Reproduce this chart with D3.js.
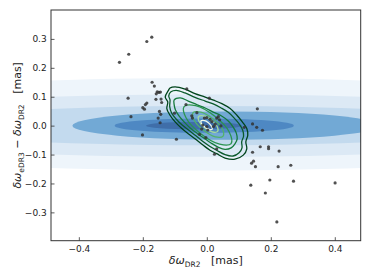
<!DOCTYPE html>
<html>
<head>
<meta charset="utf-8">
<script src="https://cdn.jsdelivr.net/npm/d3@7"></script>
<style>
  body { margin: 0; background: #fff; }
  text { font-family: 'DejaVu Sans', sans-serif; }
</style>
</head>
<body>
<div id="vis"></div>
<script>
// scatter of individual sources: [dw_DR2, dw_eDR3 - dw_DR2] in mas
const points = [
  [-0.172, 0.306], [-0.1875, 0.291], [-0.244, 0.247], [-0.273, 0.219],
  [-0.171, 0.150], [-0.164, 0.137], [-0.155, 0.117], [-0.150, 0.115],
  [-0.145, 0.116], [-0.158, 0.110], [-0.159, 0.091], [-0.143, 0.092],
  [-0.141, 0.080], [-0.246, 0.095], [-0.1875, 0.078], [-0.192, 0.073],
  [-0.200, 0.062], [-0.195, 0.057], [-0.148, 0.049], [-0.144, 0.039],
  [-0.237, 0.031], [-0.152, 0.026], [-0.146, 0.010], [-0.201, -0.032],
  [-0.095, -0.047], [-0.0625, 0.127], [0.008, 0.095], [-0.065, 0.073],
  [-0.101, 0.043], [-0.031, 0.045], [-0.047, 0.034], [-0.045, 0.026],
  [-0.0075, 0.026], [0.0, 0.028], [0.010, 0.022], [0.031, 0.026],
  [0.036, 0.031], [0.040, 0.020], [0.016, 0.014], [0.026, 0.005],
  [0.021, -0.003], [0.0, -0.003], [-0.0125, 0.002], [-0.016, -0.012],
  [0.003, -0.015], [-0.023, -0.030], [-0.003, -0.041], [0.031, -0.080],
  [0.024, -0.099], [0.044, -0.001], [0.117, -0.006], [0.143, 0.006],
  [0.156, -0.006], [0.174, -0.016], [0.158, 0.058], [0.167, -0.073],
  [0.193, -0.073], [0.193, -0.080], [0.143, -0.092], [0.226, -0.088],
  [0.140, -0.130], [0.146, -0.123], [0.152, -0.142], [0.223, -0.142],
  [0.2625, -0.137], [0.197, -0.188], [0.271, -0.192], [0.1375, -0.206],
  [0.183, -0.233], [0.401, -0.198], [0.219, -0.333]
];

// model error ellipses (filled bands), outer to inner: [cx, cy, rx, ry]
const bands = [
  [0.0, 0.005, 1.50, 0.160],
  [0.0, 0.0, 1.29, 0.108],
  [0.0, 0.0, 0.93, 0.068],
  [0.06, 0.0, 0.48, 0.049],
  [-0.008, 0.0, 0.28, 0.025],
  [-0.04, 0.0, 0.15, 0.013]
];
const bandColors = ['#eef5fb', '#dce9f5', '#c3daee', '#72a9d5', '#4e88c3', '#3f6ea9'];

// density contours of the sample, outer to inner
const contours = [
  [[-0.115, 0.130], [-0.099, 0.134], [-0.068, 0.126], [-0.037, 0.111], [-0.005, 0.099],
   [0.021, 0.088], [0.047, 0.076], [0.073, 0.059], [0.094, 0.036], [0.111, 0.013],
   [0.125, -0.010], [0.128, -0.033], [0.122, -0.056], [0.125, -0.080], [0.114, -0.102],
   [0.088, -0.116], [0.057, -0.112], [0.031, -0.097], [0.010, -0.085], [-0.011, -0.068],
   [-0.037, -0.045], [-0.058, -0.028], [-0.078, -0.010], [-0.099, 0.013], [-0.115, 0.036],
   [-0.125, 0.059], [-0.122, 0.082], [-0.130, 0.099], [-0.120, 0.122]],
  [[-0.112, 0.117], [-0.096, 0.122], [-0.068, 0.113], [-0.037, 0.098], [-0.005, 0.085],
   [0.020, 0.075], [0.045, 0.061], [0.067, 0.046], [0.085, 0.027], [0.101, 0.006],
   [0.112, -0.015], [0.115, -0.036], [0.109, -0.056], [0.110, -0.077], [0.101, -0.094],
   [0.082, -0.105], [0.057, -0.100], [0.032, -0.086], [0.010, -0.072], [-0.012, -0.055],
   [-0.033, -0.036], [-0.055, -0.017], [-0.077, 0.002], [-0.096, 0.023], [-0.110, 0.044],
   [-0.116, 0.066], [-0.115, 0.089], [-0.119, 0.103]],
  [[-0.102, 0.089], [-0.083, 0.096], [-0.058, 0.085], [-0.030, 0.072], [-0.005, 0.061],
   [0.020, 0.047], [0.045, 0.034], [0.067, 0.016], [0.082, -0.004], [0.092, -0.025],
   [0.095, -0.046], [0.088, -0.063], [0.076, -0.077], [0.057, -0.082], [0.035, -0.074],
   [0.013, -0.060], [-0.008, -0.044], [-0.030, -0.027], [-0.052, -0.008], [-0.071, 0.013],
   [-0.087, 0.034], [-0.098, 0.054], [-0.102, 0.072]],
  [[0.076, -0.062], [0.040, -0.064], [-0.019, -0.028], [-0.065, 0.027],
   [-0.071, 0.066], [-0.035, 0.069], [0.024, 0.033], [0.070, -0.022]],
  [[0.051, -0.036], [0.027, -0.039], [-0.010, -0.016], [-0.039, 0.018],
   [-0.043, 0.045], [-0.019, 0.047], [0.018, 0.025], [0.048, -0.010]],
  [[0.034, -0.020], [0.018, -0.022], [-0.006, -0.008], [-0.024, 0.014],
   [-0.026, 0.031], [-0.010, 0.034], [0.014, 0.019], [0.032, -0.002]],
  [[0.017, -0.012], [0.008, -0.013], [-0.006, -0.005], [-0.017, 0.008],
   [-0.018, 0.017], [-0.009, 0.018], [0.005, 0.010], [0.015, -0.003]]
];
const contourColors = ['#00441b', '#0a5a2b', '#157a3c', '#2b9450', '#52b26a', '#a3d99e', '#eef8ea'];

const xTicks = [-0.4, -0.2, 0.0, 0.2, 0.4];
const yTicks = [-0.3, -0.2, -0.1, 0.0, 0.1, 0.2, 0.3];

const W = 371, H = 279;
const plotLeft = 51, plotRight = 360.7, plotTop = 10, plotBottom = 240.7;

const svg = d3.select('#vis').append('svg')
    .attr('width', W)
    .attr('height', H);

const x = d3.scaleLinear().domain([-0.487, 0.481]).range([plotLeft, plotRight]);
const y = d3.scaleLinear().domain([-0.398, 0.400]).range([plotBottom, plotTop]);

svg.append('clipPath')
    .attr('id', 'clip')
    .append('rect')
    .attr('x', plotLeft)
    .attr('y', plotTop)
    .attr('width', plotRight - plotLeft)
    .attr('height', plotBottom - plotTop);

const plot = svg.append('g').attr('clip-path', 'url(#clip)');

plot.selectAll('ellipse.band')
    .data(bands)
    .join('ellipse')
    .attr('class', 'band')
    .attr('cx', d => x(d[0]))
    .attr('cy', d => y(d[1]))
    .attr('rx', d => x(d[0] + d[2]) - x(d[0]))
    .attr('ry', d => y(d[1] - d[3]) - y(d[1]))
    .attr('fill', (d, i) => bandColors[i]);

const line = d3.line()
    .x(d => x(d[0]))
    .y(d => y(d[1]))
    .curve(d3.curveCatmullRomClosed);

plot.selectAll('path.contour')
    .data(contours)
    .join('path')
    .attr('class', 'contour')
    .attr('d', line)
    .attr('fill', 'none')
    .attr('stroke', (d, i) => contourColors[i])
    .attr('stroke-width', 1.3);

plot.selectAll('circle.pt')
    .data(points)
    .join('circle')
    .attr('class', 'pt')
    .attr('cx', d => x(d[0]))
    .attr('cy', d => y(d[1]))
    .attr('r', 1.6)
    .attr('fill', '#333')
    .attr('fill-opacity', 0.85);

// axes, ticks pointing inward
const fmt = d3.format('.1f');

const gx = svg.append('g')
    .attr('transform', `translate(0,${plotBottom})`)
    .call(d3.axisBottom(x).tickValues(xTicks).tickFormat(fmt).tickSizeInner(-3.5).tickSizeOuter(0).tickPadding(4.5));
const gy = svg.append('g')
    .attr('transform', `translate(${plotLeft},0)`)
    .call(d3.axisLeft(y).tickValues(yTicks).tickFormat(fmt).tickSizeInner(-3.5).tickSizeOuter(0).tickPadding(4.3));

[gx, gy].forEach(g => {
    g.select('.domain').remove();
    g.selectAll('.tick line').attr('stroke', '#333').attr('stroke-width', 0.8);
    g.selectAll('.tick text')
        .attr('fill', '#222')
        .attr('font-family', 'DejaVu Sans')
        .attr('font-size', '9px');
});

svg.append('rect')
    .attr('x', plotLeft)
    .attr('y', plotTop)
    .attr('width', plotRight - plotLeft)
    .attr('height', plotBottom - plotTop)
    .attr('fill', 'none')
    .attr('stroke', '#333')
    .attr('stroke-width', 1);

// axis labels
const xl = svg.append('text')
    .attr('x', (plotLeft + plotRight) / 2)
    .attr('y', 264)
    .attr('text-anchor', 'middle')
    .attr('font-size', '11px')
    .attr('fill', '#222')
    .style('white-space', 'pre');
xl.append('tspan').attr('font-style', 'italic').text('δω');
xl.append('tspan').attr('font-size', '7.5px').attr('dy', 2.5).text('DR2');
xl.append('tspan').attr('dy', -2.5).text('   [mas]');

const yl = svg.append('text')
    .attr('transform', `translate(21,${(plotTop + plotBottom) / 2}) rotate(-90)`)
    .attr('text-anchor', 'middle')
    .attr('font-size', '11px')
    .attr('fill', '#222')
    .style('white-space', 'pre');
yl.append('tspan').attr('font-style', 'italic').text('δω');
yl.append('tspan').attr('font-size', '7.5px').attr('dy', 2.5).text('eDR3');
yl.append('tspan').attr('dy', -2.5).text(' − ');
yl.append('tspan').attr('font-style', 'italic').text('δω');
yl.append('tspan').attr('font-size', '7.5px').attr('dy', 2.5).text('DR2');
yl.append('tspan').attr('dy', -2.5).text('   [mas]');
</script>
</body>
</html>
